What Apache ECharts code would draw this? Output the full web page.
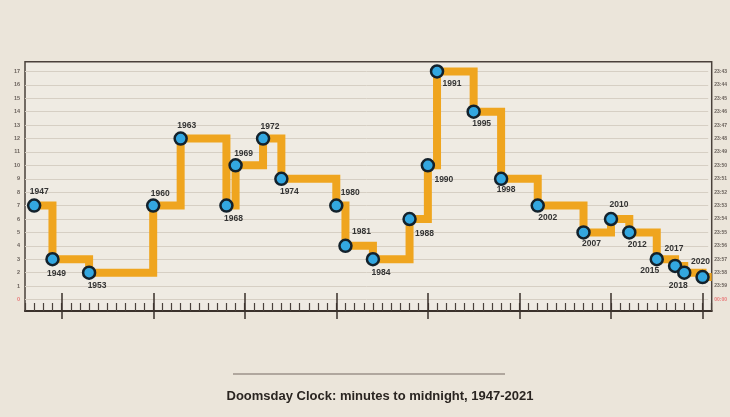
<!DOCTYPE html>
<html>
<head>
<meta charset="utf-8">
<script src="https://cdn.jsdelivr.net/npm/echarts@6/dist/echarts.min.js"></script>
<style>
html,body{margin:0;padding:0;background:#ebe5da;}
#c{width:730px;height:417px;}
</style>
</head>
<body>
<div id="c"></div>
<script>
// ---- data ----
const years   = [1947,1949,1953,1960,1963,1968,1969,1972,1974,1980,1981,1984,1988,1990,1991,1995,1998,2002,2007,2010,2012,2015,2017,2018,2020];
const minutes = [7,   3,   2,   7,   12,  7,   10,  12,  9,   7,   4,   3,   6,   10,  17,  14,  9,   7,   5,   6,   5,   3,   2.5, 2,   1.67];
const endYear = 2021;            // the step runs on to the end of 2021
const endMinutes = 1.67;
const leftTickLabels  = ['0','1','2','3','4','5','6','7','8','9','10','11','12','13','14','15','16','17'];
const rightTickLabels = ['00:00','23:59','23:58','23:57','23:56','23:55','23:54','23:53','23:52','23:51','23:50','23:49','23:48','23:47','23:46','23:45','23:44','23:43'];
const titleText = 'Doomsday Clock: minutes to midnight, 1947-2021';

// ---- label placement (layout only) ----
const labelOffsets = [[5,-14],[4,14],[8,13],[7,-12],[6,-13],[7,13],[8,-12],[7,-12],[8,13],[14,-13],[16,-14],[8,13],[15,15],[16,14],[15,12],[8,12],[5,11],[10,12],[8,11],[8,-14],[8,12],[-7,11],[-1,-17],[-6,13],[-2,-15]];

const seriesData = years.map((y,i)=>({
  value:[y, minutes[i]],
  label:{show:true, position:'inside', offset:labelOffsets[i], formatter:String(y)}
}));
seriesData.push({value:[endYear, endMinutes], symbol:'none', label:{show:false}});

const chart = echarts.init(document.getElementById('c'), null, {renderer:'canvas'});
const font = 'Liberation Sans, Arial, sans-serif';
chart.setOption({
  backgroundColor:'#ebe5da',
  animation:false,
  title:{
    text:titleText, left:375, top:385, textAlign:'center',
    textStyle:{fontFamily:font, fontWeight:'bold', fontSize:13, color:'#2a2521'}
  },
  graphic:[{type:'line', shape:{x1:233,y1:374,x2:505,y2:374}, style:{stroke:'#9c928a', lineWidth:1.5}}],
  grid:[
    {left:25, right:18.3, top:61.7, bottom:106, show:true, borderColor:'#4a413b', borderWidth:1.5, backgroundColor:'#efebe3'},
    {left:25, right:18.3, top:71.5, bottom:117.5},
    {left:61.7, right:27.3, top:61.7, bottom:106}
  ],
  xAxis:[
    {gridIndex:0, type:'value', min:1946, max:2021, interval:1, position:'bottom',
     axisLine:{show:true, onZero:false, lineStyle:{color:'#3a312b', width:2}},
     axisTick:{show:true, inside:true, length:8, lineStyle:{color:'#4a413b', width:1.2}},
     axisLabel:{show:false}, splitLine:{show:false}},
    {gridIndex:1, type:'value', min:1946, max:2021, show:false},
    {gridIndex:2, type:'value', min:1950, max:2020, interval:10, offset:8, position:'bottom',
     axisLine:{show:false, onZero:false},
     axisTick:{show:true, inside:true, length:26, lineStyle:{color:'#3a312b', width:1.5}},
     axisLabel:{show:false}, splitLine:{show:false}}
  ],
  yAxis:[
    {gridIndex:0, type:'value', min:-0.86, max:17.73, show:false},
    {gridIndex:1, type:'value', min:0, max:17, interval:1, position:'left',
     axisLine:{show:false}, axisTick:{show:false},
     axisLabel:{margin:5, fontSize:5.5, fontFamily:font, fontWeight:'bold', color:'#6a625c',
       formatter:(v)=>{const t=leftTickLabels[Math.round(v)]; return v===0?'{r|'+t+'}':t;},
       rich:{r:{color:'#e87a7a', fontSize:5.5, fontFamily:font, fontWeight:'bold'}}},
     splitLine:{show:true, lineStyle:{color:'#d6cfc4', width:1}}},
    {gridIndex:1, type:'value', min:0, max:17, interval:1, position:'right',
     axisLine:{show:false}, axisTick:{show:false}, splitLine:{show:false},
     axisLabel:{margin:6, fontSize:5, fontFamily:font, fontWeight:'bold', color:'#6a625c',
       formatter:(v)=>{const t=rightTickLabels[Math.round(v)]; return v===0?'{r|'+t+'}':t;},
       rich:{r:{color:'#e87a7a', fontSize:5, fontFamily:font, fontWeight:'bold'}}}},
    {gridIndex:2, type:'value', min:0, max:1, show:false}
  ],
  series:[{
    type:'line', xAxisIndex:0, yAxisIndex:0, step:'end', clip:false,
    data:seriesData,
    lineStyle:{color:'#efa51f', width:8, cap:'butt', join:'miter'},
    symbol:'circle', symbolSize:12,
    itemStyle:{color:'#33a7e0', borderColor:'#13212b', borderWidth:2.5},
    label:{fontFamily:font, fontWeight:'bold', fontSize:8.5, color:'#333'},
    emphasis:{disabled:true}
  }]
});
</script>
</body>
</html>
